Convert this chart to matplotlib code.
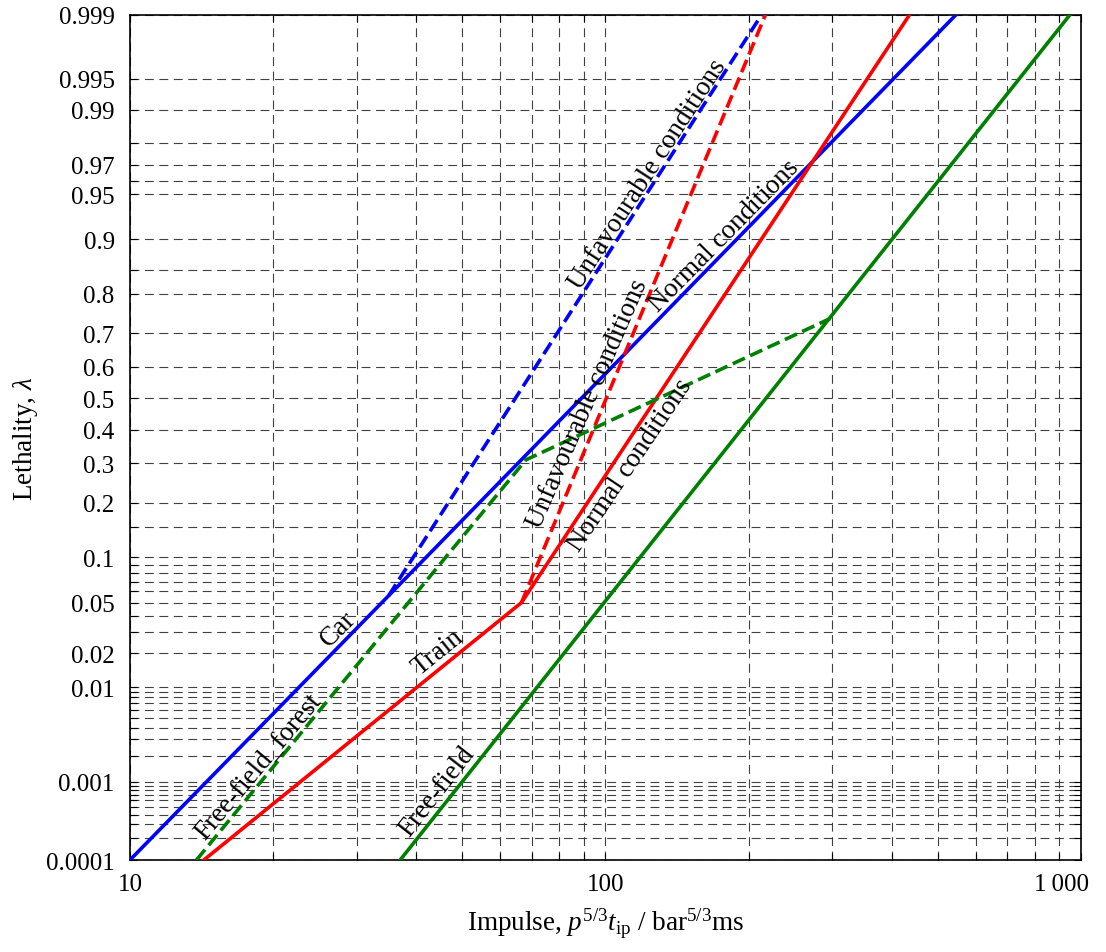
"""Lethality vs impulse chart (probit y-axis, log x-axis)"""

from statistics import NormalDist
import numpy as np
import matplotlib
matplotlib.use('Agg')
import matplotlib.pyplot as plt
import matplotlib.transforms as mtransforms
from matplotlib.ticker import FixedLocator, FixedFormatter, NullFormatter

plt.rcParams['font.family'] = ['Liberation Serif', 'DejaVu Serif']
plt.rcParams['mathtext.fontset'] = 'custom'
plt.rcParams['mathtext.rm'] = 'Liberation Serif'
plt.rcParams['mathtext.it'] = 'Liberation Serif:italic'

# curves: impulse (x) and lethality (y)
car_x = [10, 35, 546]
car_y = [0.0001, 0.056, 0.999]
car_unfav_x = [35, 213]
car_unfav_y = [0.056, 0.999]

train_x = [14.3, 66.6, 436]
train_y = [0.0001, 0.05, 0.999]
train_unfav_x = [66.6, 217]
train_unfav_y = [0.05, 0.999]

free_x = [37, 948]
free_y = [0.0001, 0.999]
forest_x = [13.8, 68, 297]
forest_y = [0.0001, 0.31, 0.74]

# labels along the curves: text, x, y, rotation
labels = [
    ('Car', 27.4, 0.032, 45),
    ('Train', 44.4, 0.0205, 39),
    ('Free-field_forest', 18.6, 0.00153, 50),
    ('Free-field', 44.2, 0.00078, 52),
    ('Unfavourable conditions', 122.9, 0.9646, 57),
    ('Normal conditions', 177.4, 0.906, 45.5),
    ('Unfavourable conditions', 91.5, 0.485, 66.5),
    ('Normal conditions', 112.6, 0.298, 56),
]

y_major = [0.0001, 0.001, 0.01, 0.02, 0.05, 0.1, 0.2, 0.3, 0.4, 0.5, 0.6,
           0.7, 0.8, 0.9, 0.95, 0.97, 0.99, 0.995, 0.999]
y_minor = ([k * 1e-4 for k in range(2, 10)] + [k * 1e-3 for k in range(2, 10)]
           + [0.03, 0.04, 0.06, 0.07, 0.08, 0.09, 0.15, 0.85, 0.96, 0.98])
x_major = [10, 100, 1000]
x_major_labels = ['10', '100', '1\u2009000']
x_minor = [k * 10 for k in range(2, 10)] + [k * 100 for k in range(2, 10)]

_nd = NormalDist()
_ppf = np.vectorize(_nd.inv_cdf, otypes=[float])
_cdf = np.vectorize(_nd.cdf, otypes=[float])


def probit(p):
    p = np.clip(np.asarray(p, dtype=float), 1e-12, 1 - 1e-12)
    return _ppf(p)


def inv_probit(z):
    return _cdf(np.asarray(z, dtype=float))


fig = plt.figure(figsize=(11.06, 9.53), dpi=100)
ax = fig.add_axes([0.1175, 0.0965, 0.8599, 0.887])
ax.set_xscale('log')
ax.set_yscale('function', functions=(probit, inv_probit))

blue, red, green = '#0000ff', '#ff0000', '#008000'
lw = 2.6
ax.plot(car_x, car_y, color=blue, lw=lw, zorder=3)
ax.plot(car_unfav_x, car_unfav_y, color=blue, lw=lw, ls='--', zorder=3)
ax.plot(train_x, train_y, color=red, lw=lw, zorder=3)
ax.plot(train_unfav_x, train_unfav_y, color=red, lw=lw, ls='--', zorder=3)
ax.plot(free_x, free_y, color=green, lw=lw, zorder=3)
ax.plot(forest_x, forest_y, color=green, lw=lw, ls='--', zorder=3)

for text, x, y, rot in labels:
    ax.text(x, y, text, rotation=rot, fontsize=19.5, ha='center', va='center',
            rotation_mode='anchor', zorder=4)

ax.set_xlim(10, 1000)
ax.set_ylim(0.0001, 0.999)

ax.xaxis.set_major_locator(FixedLocator(x_major))
ax.xaxis.set_major_formatter(FixedFormatter(x_major_labels))
ax.xaxis.set_minor_locator(FixedLocator(x_minor))
ax.xaxis.set_minor_formatter(NullFormatter())
ax.yaxis.set_major_locator(FixedLocator(y_major))
ax.yaxis.set_major_formatter(FixedFormatter([f'{v:g}' if v >= 0.001 else '0.0001'
                                             for v in y_major]))
ax.yaxis.set_minor_locator(FixedLocator(y_minor))
ax.yaxis.set_minor_formatter(NullFormatter())

ax.grid(True, which='both', color='0.25', lw=0.8, ls=(0, (8, 5)))
ax.tick_params(which='both', direction='in', top=True, right=True,
               labelsize=18, length=5, width=0.8, pad=9)
ax.tick_params(axis='y', pad=11)
for s in ax.spines.values():
    s.set_linewidth(1.2)

# the last x label sits a little to the left so it stays inside the figure
fig.canvas.draw()
last = ax.xaxis.get_majorticklabels()[-1]
last.set_transform(last.get_transform()
                   + mtransforms.ScaledTranslation(-14 / 72, 0, fig.dpi_scale_trans))

ax.set_xlabel(r'Impulse, $p^{5/3}t_{\mathrm{ip}}$ / bar$^{5/3}$ms', fontsize=19.5,
              labelpad=8)
ax.set_ylabel(r'Lethality, $\lambda$', fontsize=19.5, labelpad=4)

plt.savefig('out.png', dpi=100)
